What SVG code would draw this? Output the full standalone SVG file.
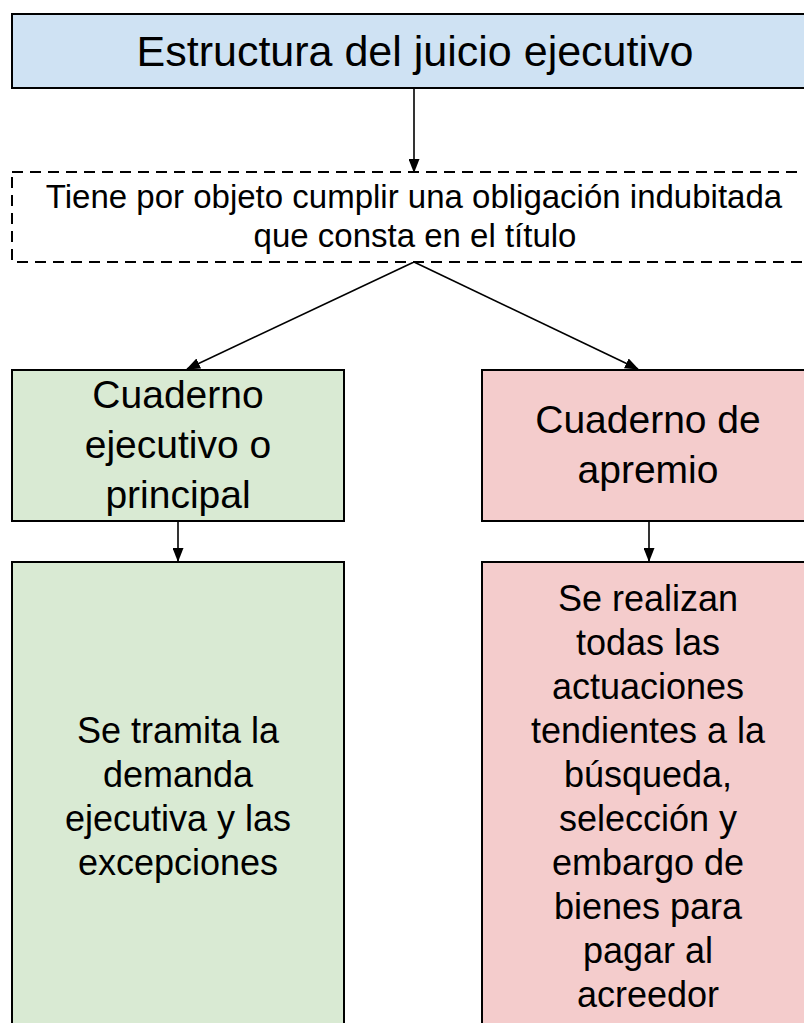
<svg xmlns="http://www.w3.org/2000/svg" width="804" height="1023" viewBox="0 0 804 1023">
  <defs>
    <style>
      .box { stroke: #000; stroke-width: 2; }
      .blue { fill: #cfe2f3; }
      .green { fill: #d9ead3; }
      .red { fill: #f4cccc; }
      .dashed { fill: #ffffff; stroke: #000; stroke-width: 2; stroke-dasharray: 11 7; }
      text { font-family: "Liberation Sans", Arial, sans-serif; fill: #000; text-anchor: middle; }
      .t43 { font-size: 43px; }
      .t33 { font-size: 33px; }
      .t39 { font-size: 39px; }
      .t36 { font-size: 36px; }
      .edge { stroke: #000; stroke-width: 1.6; fill: none; marker-end: url(#arrow); }
    </style>
    <marker id="arrow" viewBox="0 0 14 11" refX="13" refY="5.5" markerWidth="14" markerHeight="11" orient="auto" markerUnits="userSpaceOnUse">
      <path d="M0,0 L14,5.5 L0,11 z" fill="#000"/>
    </marker>
  </defs>
  <rect width="804" height="1023" fill="#ffffff"/>

  <g id="connectors">
    <line class="edge" x1="414" y1="88" x2="414" y2="172"/>
    <line class="edge" x1="414" y1="262" x2="187" y2="369"/>
    <line class="edge" x1="414" y1="262" x2="638" y2="369"/>
    <line class="edge" x1="178" y1="521" x2="178" y2="561"/>
    <line class="edge" x1="649" y1="521" x2="649" y2="561"/>
  </g>

  <g id="title">
    <rect class="box blue" x="12" y="14" width="800" height="74"/>
    <text class="t43" x="415" y="66">Estructura del juicio ejecutivo</text>
  </g>

  <g id="objeto">
    <rect class="dashed" x="12" y="172" width="800" height="90"/>
    <text class="t33" x="414" y="208">Tiene por objeto cumplir una obligación indubitada</text>
    <text class="t33" x="415" y="247">que consta en el título</text>
  </g>

  <g id="cuaderno-principal">
    <rect class="box green" x="12" y="370" width="332" height="151"/>
    <text class="t39" x="178" y="408">Cuaderno</text>
    <text class="t39" x="178" y="458">ejecutivo o</text>
    <text class="t39" x="178" y="508">principal</text>
  </g>

  <g id="cuaderno-apremio">
    <rect class="box red" x="482" y="370" width="330" height="151"/>
    <text class="t39" x="648" y="433">Cuaderno de</text>
    <text class="t39" x="648" y="483">apremio</text>
  </g>

  <g id="principal-detalle">
    <rect class="box green" x="12" y="562" width="332" height="470"/>
    <text class="t36" x="178" y="743">Se tramita la</text>
    <text class="t36" x="178" y="787">demanda</text>
    <text class="t36" x="178" y="831">ejecutiva y las</text>
    <text class="t36" x="178" y="875">excepciones</text>
  </g>

  <g id="apremio-detalle">
    <rect class="box red" x="482" y="562" width="330" height="470"/>
    <text class="t36" x="648" y="611">Se realizan</text>
    <text class="t36" x="648" y="655">todas las</text>
    <text class="t36" x="648" y="699">actuaciones</text>
    <text class="t36" x="648" y="743">tendientes a la</text>
    <text class="t36" x="648" y="787">búsqueda,</text>
    <text class="t36" x="648" y="831">selección y</text>
    <text class="t36" x="648" y="875">embargo de</text>
    <text class="t36" x="648" y="919">bienes para</text>
    <text class="t36" x="648" y="963">pagar al</text>
    <text class="t36" x="648" y="1007">acreedor</text>
  </g>
</svg>
